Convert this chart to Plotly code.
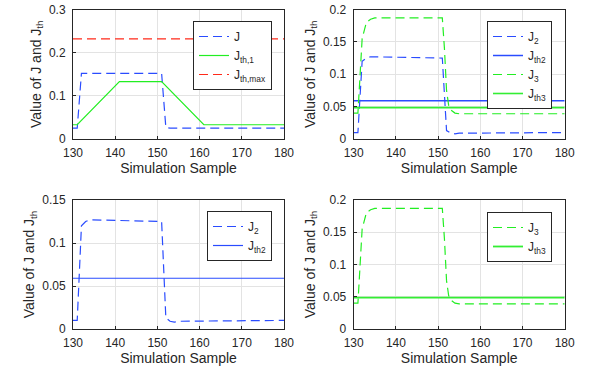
import plotly.graph_objects as go

# ---- data ----
x_ticks = [130, 140, 150, 160, 170, 180]

# top-left panel
j_x = [130, 131, 132, 151, 152, 153, 180]
j_y = [0.025, 0.025, 0.152, 0.152, 0.027, 0.025, 0.025]
jth1_x = [130, 131, 141, 151, 161, 180]
jth1_y = [0.033, 0.033, 0.133, 0.133, 0.033, 0.033]
jthmax_x = [130, 180]
jthmax_y = [0.232, 0.232]

# J2 / Jth2
j2_x = [130, 131, 132, 133, 134, 151, 152, 153, 154, 155, 180]
j2_y = [0.010, 0.010, 0.120, 0.125, 0.127, 0.125, 0.013, 0.009, 0.008, 0.009, 0.010]
jth2_x = [130, 180]
jth2_y = [0.059, 0.059]

# J3 / Jth3
j3_x = [130, 131, 132, 133, 134, 135, 151, 151.5, 152, 152.5, 153, 154, 155, 180]
j3_y = [0.040, 0.040, 0.155, 0.180, 0.185, 0.187, 0.187, 0.140, 0.075, 0.052, 0.045, 0.040, 0.039, 0.039]
jth3_x = [130, 180]
jth3_y = [0.0485, 0.0485]

BLUE = "#2a4cff"
GREEN = "#22ee22"
GREEN_TH = "#33ee33"
RED = "#ff2a1a"
DASH = "9px,5px"
FONT = "Liberation Sans, Arial, sans-serif"
TXT = "#262626"

fig = go.Figure()

def add(x, y, name, color, dash, xa, ya, leg, width=1.2):
    fig.add_trace(go.Scatter(x=x, y=y, mode="lines", name=name,
                             line=dict(color=color, dash=dash, width=width),
                             xaxis=xa, yaxis=ya, legend=leg))

# top-left
add(j_x, j_y, "J", BLUE, DASH, "x", "y", "legend")
add(jth1_x, jth1_y, "J<sub>th,1</sub>", GREEN, "solid", "x", "y", "legend")
add(jthmax_x, jthmax_y, "J<sub>th,max</sub>", RED, DASH, "x", "y", "legend")
# top-right
add(j2_x, j2_y, "J<sub>2</sub>", BLUE, DASH, "x2", "y2", "legend2")
add(jth2_x, jth2_y, "J<sub>th2</sub>", BLUE, "solid", "x2", "y2", "legend2", 1.5)
add(j3_x, j3_y, "J<sub>3</sub>", GREEN, DASH, "x2", "y2", "legend2")
add(jth3_x, jth3_y, "J<sub>th3</sub>", GREEN_TH, "solid", "x2", "y2", "legend2", 1.6)
# bottom-left
add(j2_x, j2_y, "J<sub>2</sub>", BLUE, DASH, "x3", "y3", "legend3")
add(jth2_x, jth2_y, "J<sub>th2</sub>", BLUE, "solid", "x3", "y3", "legend3", 1.2)
# bottom-right
add(j3_x, j3_y, "J<sub>3</sub>", GREEN, DASH, "x4", "y4", "legend4")
add(jth3_x, jth3_y, "J<sub>th3</sub>", GREEN_TH, "solid", "x4", "y4", "legend4", 1.8)

W, H = 594, 371

def px_x(p):
    return p / W

def px_y(p):
    return 1 - p / H

left_dom = [px_x(73), px_x(284)]
right_dom = [px_x(353.7), px_x(564.7)]
top_dom = [px_y(139), px_y(9.5)]
bot_dom = [px_y(329), px_y(200)]

def xax(dom, anchor):
    return dict(domain=dom, anchor=anchor, range=[130, 180], tickvals=x_ticks,
                automargin=False, ticklabeloverflow="allow",
                showline=True, linecolor=TXT, linewidth=1, mirror=True,
                ticks="inside", ticklen=3, tickcolor=TXT, ticklabelstandoff=3,
                showgrid=True, gridcolor="#e3e3e3", zeroline=False,
                tickfont=dict(size=12, color=TXT, family=FONT),
                title=dict(text="Simulation Sample", font=dict(size=14, color=TXT, family=FONT), standoff=2))

def yax(dom, anchor, rng, vals, texts):
    return dict(domain=dom, anchor=anchor, range=rng, tickvals=vals, ticktext=texts,
                automargin=False, ticklabeloverflow="allow",
                showline=True, linecolor=TXT, linewidth=1, mirror=True,
                ticks="inside", ticklen=3, tickcolor=TXT, ticklabelstandoff=4,
                showgrid=True, gridcolor="#e3e3e3", zeroline=False,
                tickfont=dict(size=12, color=TXT, family=FONT),
                title=dict(text="Value of J and J<sub>th</sub>", font=dict(size=14, color=TXT, family=FONT), standoff=4))

def leg(xr, yt):
    return dict(x=xr, y=yt, xanchor="right", yanchor="top", xref="paper", yref="paper",
                bgcolor="white", bordercolor=TXT, borderwidth=1,
                font=dict(size=12, color=TXT, family=FONT), tracegroupgap=0)

fig.update_layout(
    template="none",
    width=W, height=H, margin=dict(l=0, r=0, t=0, b=0, autoexpand=False),
    paper_bgcolor="white", plot_bgcolor="white", showlegend=True,
    font=dict(family=FONT, color=TXT),
    xaxis=xax(left_dom, "y"),
    yaxis=yax(top_dom, "x", [0, 0.3], [0, 0.1, 0.2, 0.3], ["0", "0.1", "0.2", "0.3"]),
    xaxis2=xax(right_dom, "y2"),
    yaxis2=yax(top_dom, "x2", [0, 0.2], [0, 0.05, 0.1, 0.15, 0.2], ["0", "0.05", "0.1", "0.15", "0.2"]),
    xaxis3=xax(left_dom, "y3"),
    yaxis3=yax(bot_dom, "x3", [0, 0.15], [0, 0.05, 0.1, 0.15], ["0", "0.05", "0.1", "0.15"]),
    xaxis4=xax(right_dom, "y4"),
    yaxis4=yax(bot_dom, "x4", [0, 0.2], [0, 0.05, 0.1, 0.15, 0.2], ["0", "0.05", "0.1", "0.15", "0.2"]),
    legend=leg(px_x(272), px_y(21)),
    legend2=leg(px_x(552), px_y(21)),
    legend3=leg(px_x(272), px_y(211)),
    legend4=leg(px_x(552), px_y(212)),
)

# remove the browser's default 8px body margin so the figure fills the window
fig.write_html("out.html", config={"displayModeBar": False},
               post_script="document.body.style.margin='0';")
